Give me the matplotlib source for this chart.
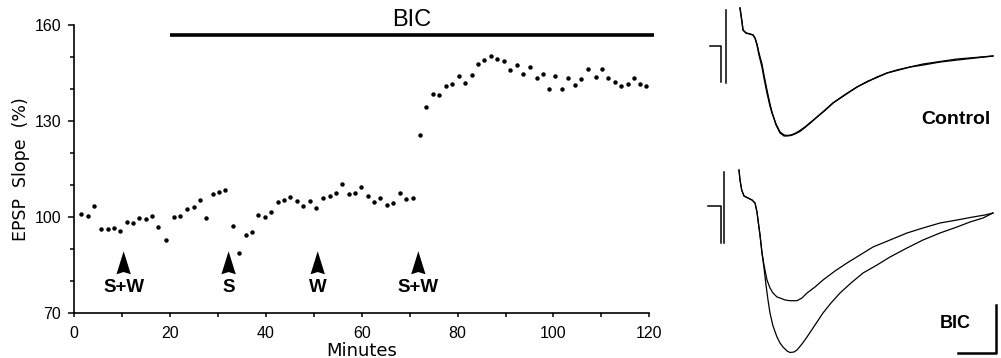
import numpy as np
import matplotlib.pyplot as plt
from matplotlib.ticker import MultipleLocator

# EPSP slope time course (minutes, % of baseline)
minutes = [1.5, 2.9, 4.1, 5.6, 7.0, 8.3, 9.5, 11.0, 12.3, 13.6, 15.0, 16.2, 17.5, 19.2, 20.8, 22.1,
           23.5, 24.9, 26.2, 27.5, 28.9, 30.1, 31.5, 33.1, 34.3, 35.8, 37.1, 38.4, 39.7, 41.1, 42.5,
           43.8, 45.1, 46.4, 47.7, 49.1, 50.4, 51.8, 53.3, 54.6, 55.9, 57.3, 58.5, 59.9, 61.3, 62.6,
           63.9, 65.2, 66.5, 67.9, 69.2, 70.6, 72.2, 73.5, 74.8, 76.2, 77.5, 78.9, 80.3, 81.6, 83.0,
           84.3, 85.6, 87.0, 88.3, 89.6, 91.0, 92.4, 93.7, 95.1, 96.5, 97.8, 99.1, 100.4, 101.8,
           103.1, 104.5, 105.8, 107.2, 108.8, 110.1, 111.4, 112.8, 114.1, 115.5, 116.8, 118.1, 119.4]
slope = [100.8, 100.3, 103.4, 96.3, 96.3, 96.7, 95.7, 98.5, 98.0, 99.8, 99.4, 100.2, 97.0, 92.7,
         100.0, 100.4, 102.5, 103.2, 105.3, 99.6, 107.3, 107.7, 108.4, 97.3, 88.9, 94.3, 95.2, 100.5,
         99.9, 101.6, 104.8, 105.4, 106.4, 104.9, 103.4, 104.9, 102.8, 105.9, 106.6, 107.6, 110.3,
         107.2, 107.6, 109.4, 106.6, 104.6, 105.9, 103.8, 104.5, 107.6, 105.5, 105.8, 125.6, 134.5,
         138.3, 138.1, 141.0, 141.7, 144.2, 142.0, 144.4, 147.9, 149.0, 150.2, 149.5, 148.6, 145.9,
         147.5, 144.6, 146.8, 143.5, 144.8, 140.0, 144.2, 139.9, 143.3, 141.2, 143.1, 146.4, 143.6,
         146.1, 143.5, 142.1, 141.0, 141.6, 143.3, 141.5, 140.8]

arrow_times = [10.3, 32.2, 50.8, 71.8]
arrow_labels = ['S+W', 'S', 'W', 'S+W']
bic_start, bic_end = 20, 121
y_ticks = [70, 100, 130, 160]

# sample traces (time units, amplitude units)
ctrl_t = [50, 52, 53, 56, 60, 63, 65, 67, 69, 72, 74, 77, 80, 82, 86, 90, 94, 97, 101, 105, 110,
          115, 121, 127, 135, 143, 155, 167, 177, 187, 197, 207, 220, 233, 250, 267, 285, 303]
ctrl_a = [-8, -22, -30, -33, -34, -35, -38, -45, -55, -67, -78, -93, -106, -113, -124, -132, -135,
          -135.5, -135, -133.5, -130.5, -127, -122, -117, -110, -103, -95, -87, -82, -77, -73, -70,
          -67, -65, -62, -60, -58, -56]
ctrl_b = [-8, -22, -30, -33, -34, -35, -38, -44, -53, -64, -75, -90, -104, -112, -125, -133, -136,
          -136, -135.5, -134, -131.5, -127.5, -122.5, -117, -110.5, -103, -94.5, -87, -81.5, -77.5,
          -73, -70.5, -67, -64, -61.5, -59, -57.5, -56]

bic_t1 = [49, 50, 51.7, 54, 58, 62, 65, 67, 68, 70, 72, 74, 77, 80, 83, 87, 90, 95, 100, 107,
          112, 117, 125, 133, 145, 157, 170, 183, 200, 217, 233, 250, 267, 283, 295, 303]
bic_a1 = [-170, -180, -190, -196, -198, -200, -203, -212, -220, -235, -253, -265, -280, -288,
          -293, -297, -298, -300, -300.7, -300.7, -298, -293, -287, -280, -271, -263, -255, -247,
          -240, -233, -228, -223, -220, -217, -215, -213]
bic_t2 = [49, 50, 51.7, 54, 58, 62, 65, 67, 68, 70, 72, 74, 76, 78, 80, 83, 87, 90, 93, 97, 100,
          104, 107, 112, 117, 125, 133, 141, 150, 161, 173, 187, 200, 217, 233, 250, 267, 280,
          293, 303]
bic_a2 = [-170, -180, -190, -196, -198, -200, -203, -212, -220, -235, -253, -268, -285, -300,
          -313, -326, -337, -343, -347, -351, -352.5, -352, -350, -344, -337, -325, -313, -303,
          -293, -283, -273, -265, -257, -248, -240, -233, -227, -222, -218, -213]

plt.rcParams['font.family'] = ['Liberation Sans', 'DejaVu Sans']

fig = plt.figure(figsize=(10.01, 3.58), dpi=100)
ax = fig.add_axes([74.3 / 1001, 45 / 358, 575 / 1001, 288 / 358])

ax.plot(minutes, slope, 'o', color='black', ms=3.2, mec='none')

ax.plot([bic_start, bic_end], [157.0, 157.0], color='black', lw=2.6, clip_on=False,
        solid_capstyle='butt')
ax.text(70.5, 161.6, 'BIC', ha='center', va='center', fontsize=17, clip_on=False)

for t, lab in zip(arrow_times, arrow_labels):
    ax.fill([t, t - 1.5, t, t + 1.5], [89.3, 82.1, 82.8, 82.1], color='black', lw=0)
    ax.text(t, 78.0, lab, ha='center', va='center', fontsize=13.5, fontweight='bold')

ax.set_xlim(0, 120)
ax.set_ylim(70, 160)
ax.xaxis.set_major_locator(MultipleLocator(20))
ax.xaxis.set_minor_locator(MultipleLocator(10))
ax.set_yticks(y_ticks)
ax.yaxis.set_minor_locator(MultipleLocator(10))
for s in ['top', 'right']:
    ax.spines[s].set_visible(False)
for s in ['left', 'bottom']:
    ax.spines[s].set_linewidth(1.2)
ax.tick_params(axis='y', which='major', length=4.5, width=1.1, pad=5, labelsize=11.5)
ax.tick_params(axis='y', which='minor', length=3, width=1.1)
ax.tick_params(axis='x', which='both', length=3, width=1.1, pad=6, labelsize=11.5)
ax.set_xlabel('Minutes', family='DejaVu Sans', fontsize=13, labelpad=1)
ax.set_ylabel('EPSP  Slope  (%)', family='DejaVu Sans', fontsize=12.5, labelpad=3)

# right: example traces
ax2 = fig.add_axes([690 / 1001, 0, 311 / 1001, 1])
ax2.set_xlim(0, 311)
ax2.set_ylim(-358, 0)
ax2.axis('off')

ax2.plot(ctrl_t, ctrl_a, color='black', lw=1.0)
ax2.plot(ctrl_t, ctrl_b, color='black', lw=0.9)
ax2.plot(bic_t1, bic_a1, color='black', lw=0.9)
ax2.plot(bic_t2, bic_a2, color='black', lw=0.9)

# stimulus artifacts
ax2.plot([20, 30.7, 30.7], [-45.7, -45.7, -82], color='black', lw=1.1)
ax2.plot([35.7, 35.7], [-10, -83], color='black', lw=1.1)
ax2.plot([18, 31, 31], [-206, -206, -243], color='black', lw=1.1)
ax2.plot([34, 34], [-172, -243], color='black', lw=1.1)

# scale bar
ax2.plot([268, 306, 306], [-353, -353, -305], color='black', lw=1.8)

ax2.text(266, -120, 'Control', ha='center', va='center', fontsize=14, fontweight='bold')
ax2.text(265, -323, 'BIC', ha='center', va='center', fontsize=13, fontweight='bold')

fig.savefig('out.png', dpi=100)
